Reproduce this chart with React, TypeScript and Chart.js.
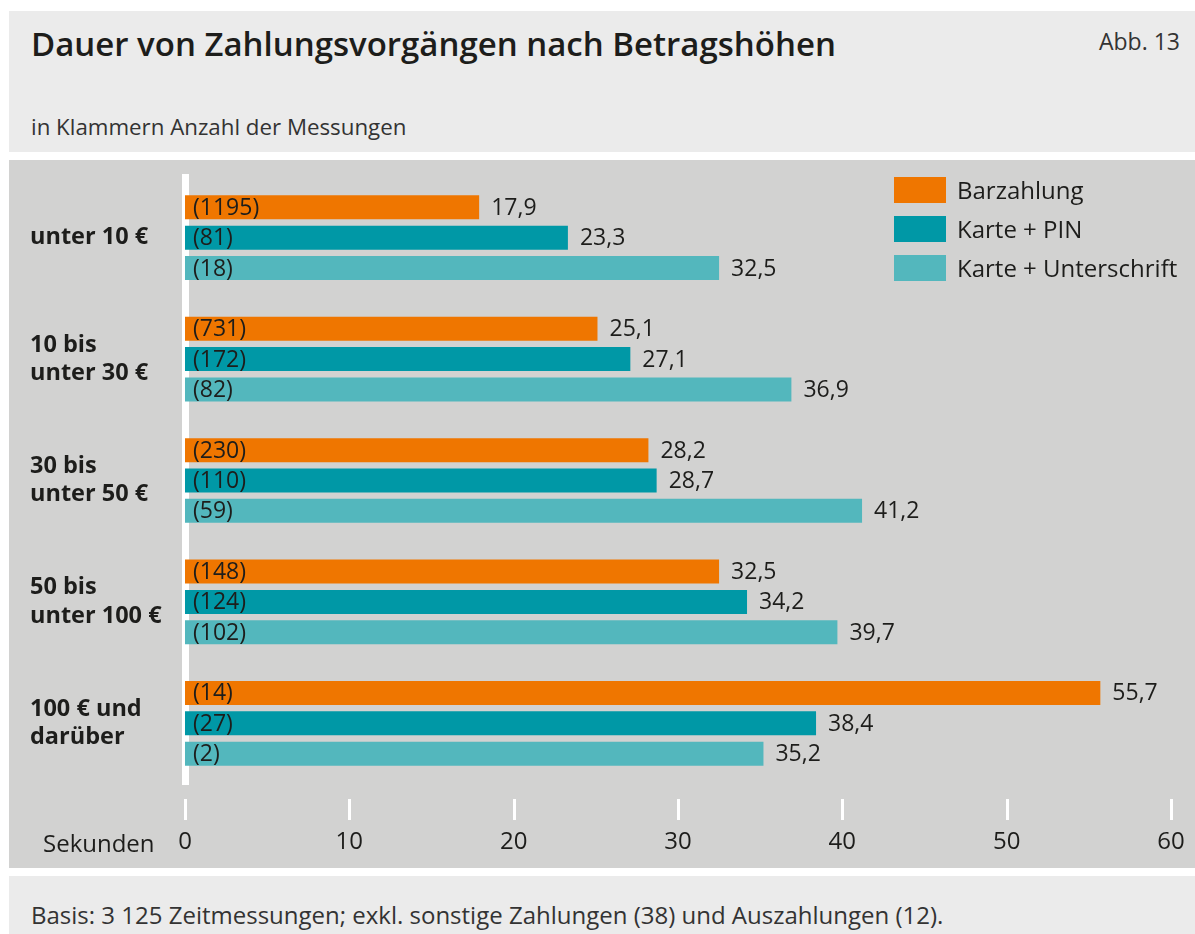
import React, { useEffect, useRef } from "react";
import { Chart, registerables } from "chart.js";
Chart.register(...registerables);

const categories: string[][] = [
  ["unter 10 €"],
  ["10 bis", "unter 30 €"],
  ["30 bis", "unter 50 €"],
  ["50 bis", "unter 100 €"],
  ["100 € und", "darüber"],
];
const seriesNames = ["Barzahlung", "Karte + PIN", "Karte + Unterschrift"];
const barzahlung = [17.9, 25.1, 28.2, 32.5, 55.7];
const kartePin = [23.3, 27.1, 28.7, 34.2, 38.4];
const karteUnterschrift = [32.5, 36.9, 41.2, 39.7, 35.2];
const barzahlungN = [1195, 731, 230, 148, 14];
const kartePinN = [81, 172, 110, 124, 27];
const karteUnterschriftN = [18, 82, 59, 102, 2];
const xMin = 0;
const xMax = 60;
const xStep = 10;
const seriesColors = ["#ef7600", "#0098a6", "#53b7bd"];

const FONT = "'Open Sans', 'Noto Sans', sans-serif";
const TEXT = "#1d1d1b";

const values = [barzahlung, kartePin, karteUnterschrift];
const counts = [barzahlungN, kartePinN, karteUnterschriftN];

const fmt = (v: number) => v.toFixed(1).replace(".", ",");

const labelPlugin = {
  id: "barLabels",
  afterDatasetsDraw(chart: any) {
    const ctx = chart.ctx;
    ctx.save();
    ctx.font = `23px ${FONT}`;
    ctx.fillStyle = TEXT;
    ctx.textBaseline = "middle";
    chart.data.datasets.forEach((ds: any, di: number) => {
      const meta = chart.getDatasetMeta(di);
      meta.data.forEach((bar: any, i: number) => {
        ctx.textAlign = "left";
        ctx.fillText(`(${counts[di][i]})`, bar.base + 8, bar.y + 1);
        ctx.fillText(fmt(values[di][i]), bar.x + 12, bar.y + 1);
      });
    });
    ctx.restore();
  },
};

const tickMarkPlugin = {
  id: "tickMarks",
  afterDraw(chart: any) {
    const ctx = chart.ctx;
    const xs = chart.scales.x;
    const y0 = chart.chartArea.bottom + 15;
    ctx.save();
    ctx.strokeStyle = "#ffffff";
    ctx.lineWidth = 3;
    xs.ticks.forEach((t: any) => {
      const px = Math.round(xs.getPixelForValue(t.value)) + 0.5;
      ctx.beginPath();
      ctx.moveTo(px, y0);
      ctx.lineTo(px, y0 + 21);
      ctx.stroke();
    });
    ctx.restore();
  },
};

function BarChart() {
  const ref = useRef<HTMLCanvasElement>(null);
  useEffect(() => {
    if (!ref.current) return;
    const chart = new Chart(ref.current, {
      type: "bar",
      data: {
        labels: categories as any,
        datasets: seriesNames.map((name, i) => ({
          label: name,
          data: values[i],
          backgroundColor: seriesColors[i],
          borderWidth: 0,
          categoryPercentage: 0.75,
          barPercentage: 0.79,
        })),
      },
      options: {
        indexAxis: "y",
        responsive: false,
        maintainAspectRatio: false,
        animation: false,
        layout: { padding: { left: 30, right: 24, top: 17, bottom: 0 } },
        plugins: {
          legend: { display: false },
          tooltip: { enabled: false },
          title: { display: false },
        },
        scales: {
          x: {
            min: xMin,
            max: xMax,
            grid: { display: false, drawTicks: false },
            border: { display: false },
            ticks: {
              stepSize: xStep,
              padding: 44,
              maxRotation: 0,
              color: TEXT,
              font: { family: FONT, size: 24 },
            },
            afterFit: (s: any) => {
              s.height = 84;
              s.paddingLeft = 0;
              s.paddingRight = 0;
              s.paddingTop = 0;
              s.paddingBottom = 0;
            },
          },
          y: {
            z: 1,
            grid: { display: false, drawTicks: false },
            border: { display: true, color: "#ffffff", width: 7 },
            ticks: {
              crossAlign: "far",
              padding: 0,
              color: TEXT,
              font: { family: FONT, size: 23.5, weight: "bold", lineHeight: 1.2 },
            },
            afterFit: (s: any) => {
              s.width = 155;
              s.paddingLeft = 0;
              s.paddingRight = 0;
              s.paddingTop = 0;
              s.paddingBottom = 0;
            },
          },
        },
      } as any,
      plugins: [labelPlugin, tickMarkPlugin],
    });
    return () => chart.destroy();
  }, []);
  return (
    <canvas
      ref={ref}
      width={1195}
      height={708}
      style={{ position: "absolute", left: 0, top: 160, width: 1195, height: 708 }}
    />
  );
}

export default function App() {
  useEffect(() => {
    document.body.style.margin = "0";
    document.body.style.overflow = "hidden";
  }, []);
  const panel = { position: "absolute" as const, left: 9, width: 1186 };
  return (
    <div
      style={{
        position: "absolute",
        left: 0,
        top: 0,
        width: 1195,
        height: 934,
        background: "#ffffff",
        fontFamily: FONT,
        color: TEXT,
        overflow: "hidden",
      }}
    >
      <div style={{ ...panel, top: 11, height: 141, background: "#ebebeb" }} />
      <div style={{ ...panel, top: 160, height: 708, background: "#d2d2d1" }} />
      <div style={{ ...panel, top: 876, height: 58, background: "#ebebeb" }} />
      <div
        style={{
          position: "absolute",
          left: 31,
          top: 27,
          fontSize: 33,
          lineHeight: "33px",
          fontWeight: 600,
          whiteSpace: "nowrap",
        }}
      >
        Dauer von Zahlungsvorgängen nach Betragshöhen
      </div>
      <div
        style={{
          position: "absolute",
          right: 15,
          top: 29,
          fontSize: 23,
          lineHeight: "24px",
          color: "#333",
          whiteSpace: "nowrap",
        }}
      >
        Abb. 13
      </div>
      <div
        style={{
          position: "absolute",
          left: 31,
          top: 114,
          fontSize: 22.3,
          lineHeight: "26px",
          color: "#333",
          whiteSpace: "nowrap",
        }}
      >
        in Klammern Anzahl der Messungen
      </div>
      <BarChart />
      <div
        style={{
          position: "absolute",
          left: 43,
          top: 828,
          fontSize: 24,
          lineHeight: "30px",
          whiteSpace: "nowrap",
        }}
      >
        Sekunden
      </div>
      {seriesNames.map((name, i) => (
        <div
          key={name}
          style={{
            position: "absolute",
            left: 894,
            top: 177 + i * 39,
            height: 26,
            display: "flex",
            alignItems: "center",
            whiteSpace: "nowrap",
          }}
        >
          <div style={{ width: 52, height: 26, background: seriesColors[i] }} />
          <div style={{ marginLeft: 11, fontSize: 24, lineHeight: "26px" }}>{name}</div>
        </div>
      ))}
      <div
        style={{
          position: "absolute",
          left: 31,
          top: 901,
          fontSize: 24,
          lineHeight: "28px",
          color: "#333",
          whiteSpace: "nowrap",
        }}
      >
        Basis: 3 125 Zeitmessungen; exkl. sonstige Zahlungen (38) und Auszahlungen (12).
      </div>
    </div>
  );
}
